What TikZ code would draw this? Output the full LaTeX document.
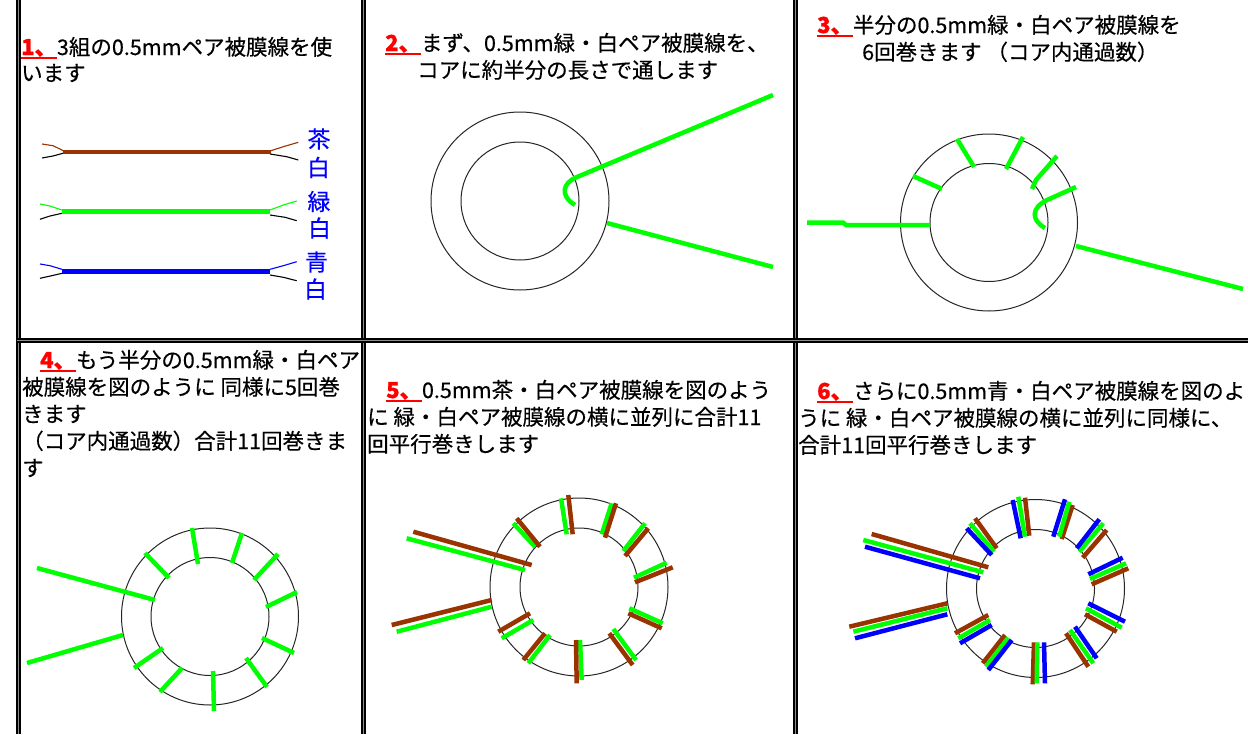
\documentclass[tikz,border=0pt]{standalone}
\usepackage{fontspec}
\newfontfamily\jp[FakeBold=0.4]{Noto Sans CJK JP}
\newfontfamily\jpnum[FakeBold=1]{Noto Sans CJK JP}

\definecolor{wgreen}{RGB}{0,255,0}
\definecolor{wbrown}{RGB}{153,51,0}
\definecolor{wblue}{RGB}{0,0,255}
\definecolor{numred}{RGB}{255,0,0}

\tikzset{
  txt/.style={anchor=base west, inner sep=0pt, font=\jp\fontsize{21.5}{26}\selectfont},
  numlbl/.style={anchor=base west, inner sep=0pt, text=numred, font=\jpnum\bfseries\fontsize{22}{26}\selectfont},
  ul/.style={draw=numred, line width=2pt},
  lbl/.style={inner sep=0pt, text=wblue, font=\jp\fontsize{23}{23}\selectfont},
  core/.style={draw=black!85, line width=1pt},
  wire/.style={line width=4.5pt},
  gw/.style={wire, draw=wgreen},
  bw/.style={wire, draw=wbrown},
  lw/.style={wire, draw=wblue},
  lead/.style={line width=1.1pt},
  frame/.style={draw=black, line width=4.5pt},
  framemid/.style={draw=black!45, line width=0.8pt},
}

\begin{document}
\begin{tikzpicture}[x=1pt,y=-1pt]
\useasboundingbox (0,0) rectangle (1248,734);
\fill[white] (0,0) rectangle (1248,734);

% table rules
\foreach \xx in {18.5,363.5,795.5}{
  \draw[frame] (\xx,0) -- (\xx,734);
  \draw[framemid] (\xx,0) -- (\xx,734);
}
\draw[frame] (16.5,340.5) -- (1248,340.5);
\draw[framemid] (16.5,340.5) -- (1248,340.5);

% ---------- step 1 ----------
\node[numlbl] (n1) at (21,55) {1、};
\draw[ul] ([yshift=-2.5pt]n1.base west) -- ([yshift=-2.5pt]n1.base east);
\node[txt] (t1a) at (n1.base east) {3組の0.5mmペア被膜線を使};
\node[txt] (t1b) at (21,81) {います};

% brown/white pair
\draw[lead, wbrown] (42,144) -- (53,145.7) -- (64,151);
\draw[lead, black]  (42,158) -- (53,156) -- (64,153);
\draw[lead, wbrown] (270,151) -- (283.3,146.7) -- (298.3,142.3);
\draw[lead, black]  (270,154) -- (286.7,156.7) -- (298.3,160);
\draw[bw] (63,152) -- (271,152);
% green/white pair
\draw[lead, wgreen] (40,204) -- (50,206) -- (62,210);
\draw[lead, black]  (40,219.3) -- (50,216) -- (62,213.3);
\draw[lead, wgreen] (270,210) -- (283.3,205) -- (296.7,201);
\draw[lead, black]  (270,215) -- (285,217.3) -- (296.7,220.7);
\draw[gw] (62,211.7) -- (270,211.7);
% blue/white pair
\draw[lead, wblue]  (40,264) -- (50,265.7) -- (62,269.3);
\draw[lead, black]  (40,278.3) -- (51.7,275.7) -- (62,273.3);
\draw[lead, wblue]  (270,269.3) -- (283.3,265.7) -- (296.7,261.7);
\draw[lead, black]  (270,275) -- (283.3,277.3) -- (296.7,280.7);
\draw[lw] (62,271.7) -- (270,271.7);

\node[lbl] (c1) at (319,139) {茶};
\node[lbl] (c2) at (318.5,167.5) {白};
\node[lbl] (c3) at (319,201.5) {緑};
\node[lbl] (c4) at (319.5,228) {白};
\node[lbl] (c5) at (316.5,262) {青};
\node[lbl] (c6) at (315.5,289) {白};

% ---------- step 2 ----------
\node[numlbl] (n2) at (385,51) {2、};
\draw[ul] ([yshift=-2.5pt]n2.base west) -- ([yshift=-2.5pt]n2.base east);
\node[txt] (t2a) at (n2.base east) {まず、0.5mm緑・白ペア被膜線を、};
\node[txt] (t2b) at (417,78) {コアに約半分の長さで通します};

\draw[core] (520,201) circle[radius=89pt];
\draw[core] (520,201) circle[radius=59pt];
\draw[gw] (773,95) -- (577,177) .. controls (562,183) and (560,196) .. (575,205);
\draw[gw] (607,223) -- (773,267);

% ---------- step 3 ----------
\node[numlbl] (n3) at (817,33) {3、};
\draw[ul] ([yshift=-2.5pt]n3.base west) -- ([yshift=-2.5pt]n3.base east);
\node[txt] (t3a) at (n3.base east) {半分の0.5mm緑・白ペア被膜線を};
\node[txt] (t3b) at (862,60) {6回巻きます （コア内通過数）};

\draw[core] (989,222.5) circle[radius=88.5pt];
\draw[core] (989,222.5) circle[radius=59pt];
\draw[gw] (807,222.5) -- (843,222.5) -- (846,225) -- (930,225);
\draw[gw] (913,176) -- (942,189);
\draw[gw] (957,139) -- (974,167);
\draw[gw] (1023,137) -- (1006,169);
\draw[gw] (1057,156) -- (1036,180) -- (1032,189);
\draw[gw] (1076,187) -- (1047,200) .. controls (1031,208) and (1031,220) .. (1045,228);
\draw[gw] (1076,246) -- (1243,289);

% ---------- step 4 ----------
\node[numlbl] (n4) at (40,368) {4、};
\draw[ul] ([yshift=-2.5pt]n4.base west) -- ([yshift=-2.5pt]n4.base east);
\node[txt] (t4a) at (n4.base east) {もう半分の0.5mm緑・白ペア};
\node[txt] (t4b) at (22,395) {被膜線を図のように 同様に5回巻};
\node[txt] (t4c) at (22,422) {きます};
\node[txt] (t4d) at (22,449) {（コア内通過数）合計11回巻きま};
\node[txt] (t4e) at (22,476) {す};

\draw[core] (210,616.5) circle[radius=88.5pt];
\draw[core] (210,616.5) circle[radius=59pt];
\draw[gw] (37,568) -- (155,600);
\draw[gw] (27,663) -- (123,635);
\draw[gw] (145,553) -- (169,578);
\draw[gw] (192,528) -- (198,564);
\draw[gw] (242,533) -- (232,563);
\draw[gw] (278,554) -- (254,580);
\draw[gw] (297,592) -- (266,607);
\draw[gw] (294,653) -- (262,638);
\draw[gw] (267,687) -- (246,658);
\draw[gw] (214,711) -- (213,671);
\draw[gw] (160,692) -- (182,668);
\draw[gw] (134,668) -- (163,648);

% ---------- step 5 ----------
\node[numlbl] (n5) at (386,398) {5、};
\draw[ul] ([yshift=-2.5pt]n5.base west) -- ([yshift=-2.5pt]n5.base east);
\node[txt] (t5a) at (n5.base east) {0.5mm茶・白ペア被膜線を図のよう};
\node[txt] (t5b) at (367,425) {に 緑・白ペア被膜線の横に並列に合計11};
\node[txt] (t5c) at (367,452) {回平行巻きします};

\draw[core] (579,587) circle[radius=89pt];
\draw[core] (579,587) circle[radius=59pt];
% leads
\draw[gw] (406.7,538.3) -- (525,570);
\draw[bw] (413.3,531.7) -- (531.7,565);
\draw[gw] (396.7,631.7) -- (491.7,606.7);
\draw[bw] (391.7,625) -- (491.7,600);
% turns
\draw[gw] (513.3,523.3) -- (535,546.7);   \draw[bw] (516.7,518.3) -- (540,546.7);
\draw[gw] (561,498.3) -- (566.7,534.3);   \draw[bw] (568.3,495) -- (572.7,534.3);
\draw[gw] (611.7,503.3) -- (601.7,534.3); \draw[bw] (616,503.3) -- (605,537.7);
\draw[gw] (645,523.3) -- (623.3,551);     \draw[bw] (648.3,528.3) -- (625,556);
\draw[gw] (666.7,562.7) -- (634,577.7);   \draw[bw] (672.7,567.3) -- (635,582.3);
\draw[gw] (662.7,623.3) -- (629.3,608.3); \draw[bw] (661.7,628.3) -- (628.3,613.3);
\draw[gw] (636,660) -- (613.3,629);       \draw[bw] (632.7,665) -- (609.3,633.3);
\draw[gw] (581.7,680) -- (580,640);       \draw[bw] (576.7,683.3) -- (576,640);
\draw[gw] (528.3,663.3) -- (550,635);     \draw[bw] (523.3,660) -- (545,633.3);
\draw[gw] (501.7,638.3) -- (533.3,620);   \draw[bw] (498.3,631.7) -- (530,613.3);

% ---------- step 6 ----------
\node[numlbl] (n6) at (817,399) {6、};
\draw[ul] ([yshift=-2.5pt]n6.base west) -- ([yshift=-2.5pt]n6.base east);
\node[txt] (t6a) at (n6.base east) {さらに0.5mm青・白ペア被膜線を図のよ};
\node[txt] (t6b) at (798,426) {うに 緑・白ペア被膜線の横に並列に同様に、};
\node[txt] (t6c) at (798,453) {合計11回平行巻きします};

\draw[core] (1035.5,588.5) circle[radius=89pt];
\draw[core] (1035.5,588.5) circle[radius=59pt];
% leads
\draw[bw] (871.7,534) -- (988.3,567.3);
\draw[gw] (863.3,540) -- (983.3,572.3);
\draw[lw] (865,546.7) -- (980,578.3);
\draw[bw] (849.3,626.7) -- (947.3,603.3);
\draw[gw] (853.3,631.7) -- (947.3,608.3);
\draw[lw] (855,638.3) -- (947.3,614.3);
% turns
\draw[bw] (975,518.3) -- (996.7,548.3);     \draw[gw] (970,523.3) -- (994,551.7);     \draw[lw] (966.7,528.3) -- (991.7,555);
\draw[bw] (1025,497.7) -- (1029.3,535.7);   \draw[gw] (1018.3,496.7) -- (1025,536.7); \draw[lw] (1012.7,500) -- (1020.7,538.3);
\draw[bw] (1072.7,505) -- (1061.7,539);     \draw[gw] (1069.3,501.7) -- (1059.3,536.7); \draw[lw] (1065,499.3) -- (1053.3,536.7);
\draw[bw] (1106.7,530) -- (1082.7,557.7);   \draw[gw] (1103.3,523.3) -- (1079.3,551.7); \draw[lw] (1099.3,519.3) -- (1076.7,548.3);
\draw[bw] (1128.3,568.3) -- (1091.7,584.3); \draw[gw] (1126,563.3) -- (1090,579);     \draw[lw] (1122.7,557.7) -- (1088.3,574.3);
\draw[bw] (1116.7,631.7) -- (1085,614.3);   \draw[gw] (1121.7,627.7) -- (1086,608.3); \draw[lw] (1125,621.7) -- (1088.3,603.3);
\draw[bw] (1088.3,666.7) -- (1066,633.3);   \draw[gw] (1093.3,663.3) -- (1070,630);   \draw[lw] (1096.7,658.3) -- (1075,626.7);
\draw[bw] (1032.7,684.3) -- (1034,642.3);   \draw[gw] (1036.7,683.3) -- (1037.3,642.3); \draw[lw] (1045,683.3) -- (1044,642.3);
\draw[bw] (982.7,663.3) -- (1005,635);      \draw[gw] (986,666.7) -- (1008.3,637.7);  \draw[lw] (988.3,670) -- (1011.7,640);
\draw[bw] (955,633.3) -- (988.3,615);       \draw[gw] (958.3,638.3) -- (990,620);     \draw[lw] (960,643.3) -- (991.7,625);
\end{tikzpicture}
\end{document}
